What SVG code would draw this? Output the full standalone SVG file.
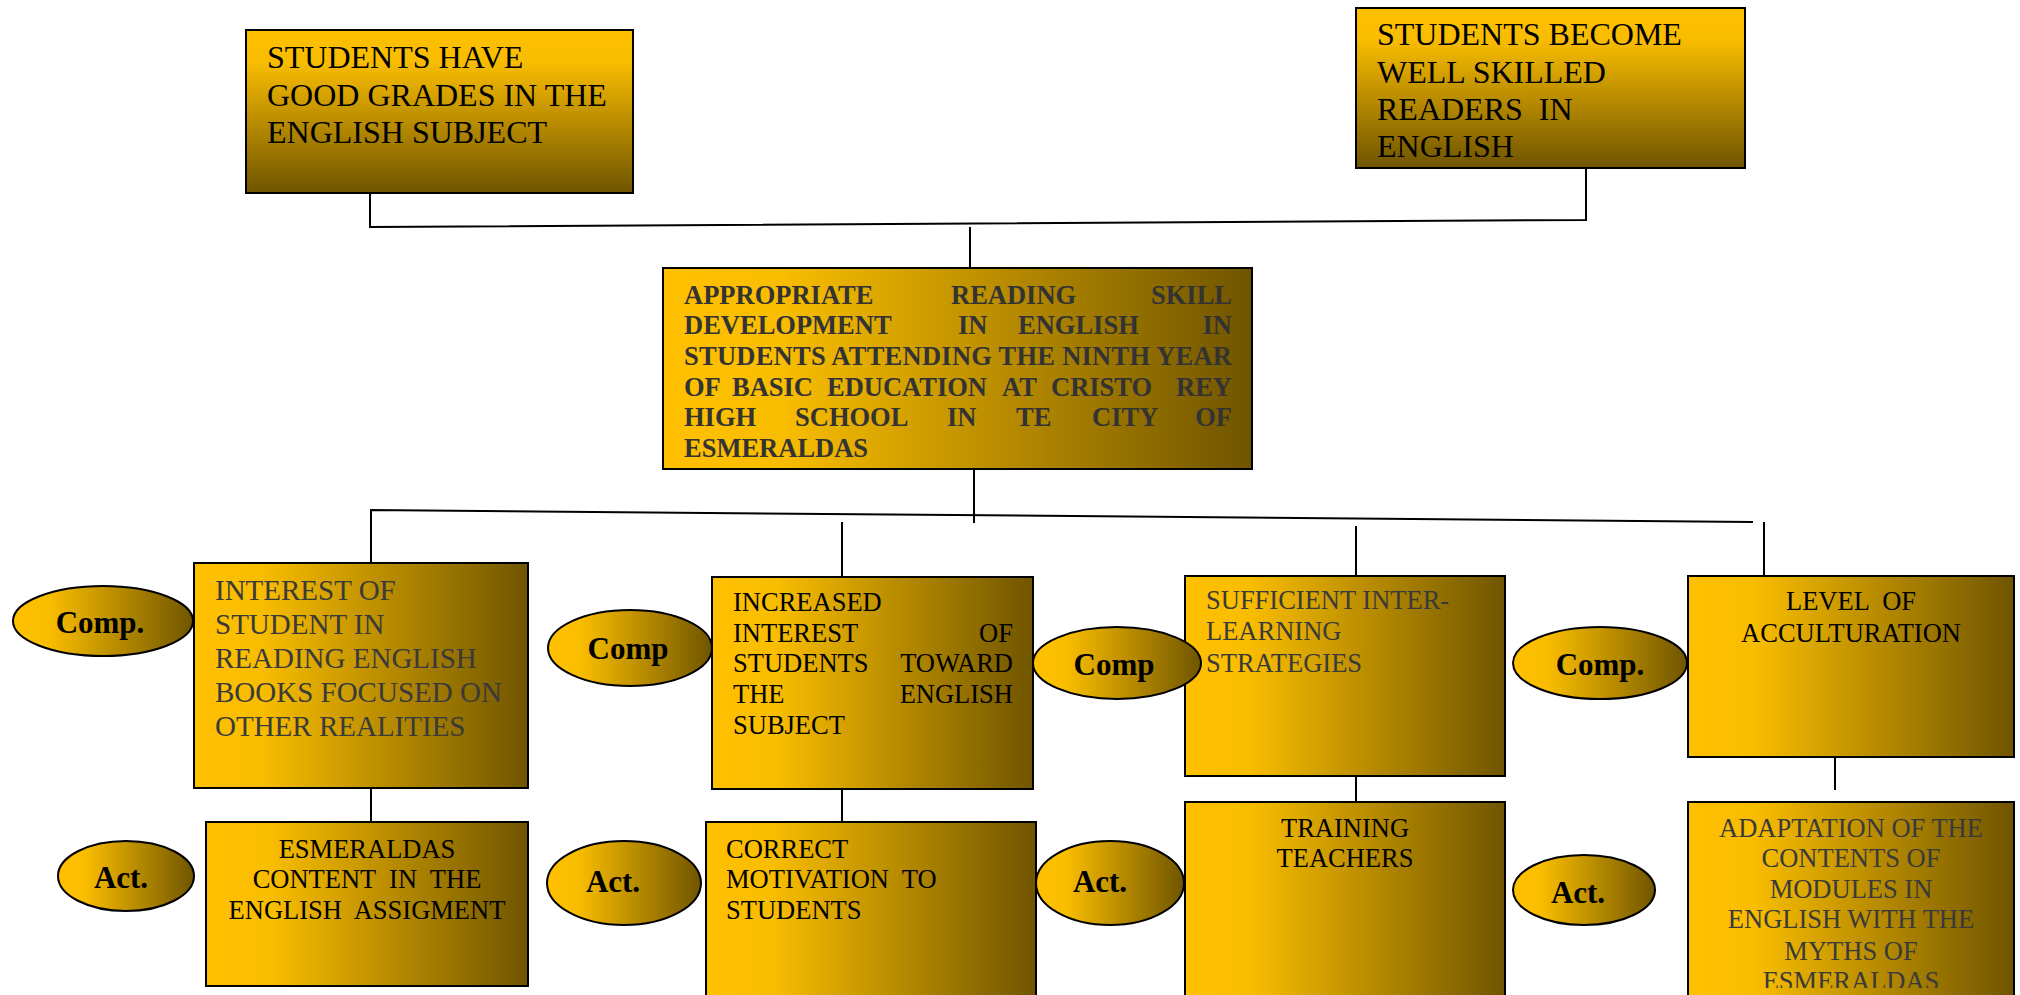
<svg xmlns="http://www.w3.org/2000/svg" width="2020" height="995" viewBox="0 0 2020 995">
<defs>
<linearGradient id="gv" x1="0" y1="0" x2="0" y2="1">
<stop offset="0" stop-color="#FFC000"/><stop offset="0.2" stop-color="#F8BC00"/><stop offset="1" stop-color="#6F5400"/>
</linearGradient>
<linearGradient id="gh" x1="0" y1="0" x2="1" y2="0">
<stop offset="0" stop-color="#FFC000"/><stop offset="0.2" stop-color="#F9BD00"/><stop offset="1" stop-color="#705500"/>
</linearGradient>
<clipPath id="clipD2"><rect x="1688" y="802" width="326" height="186"/></clipPath>
<style>
.bv{fill:url(#gv);stroke:#000;stroke-width:2}
.bh{fill:url(#gh);stroke:#000;stroke-width:2}
.el{fill:url(#gh);stroke:#000;stroke-width:2}
.ln{stroke:#000;stroke-width:2;fill:none}
.t32{font-family:"Liberation Serif","Times New Roman",serif;font-size:32px;fill:#000}
.t29{font-family:"Liberation Serif","Times New Roman",serif;font-size:29px;fill:#3a3a3a}
.t26{font-family:"Liberation Serif","Times New Roman",serif;font-size:26.5px;fill:#000}
.g26{font-family:"Liberation Serif","Times New Roman",serif;font-size:26.5px;fill:#3a3a3a}
.mb{font-family:"Liberation Serif","Times New Roman",serif;font-size:26.5px;font-weight:bold;fill:#333}
.lb{font-family:"Liberation Serif","Times New Roman",serif;font-size:31px;font-weight:bold;fill:#000;text-anchor:middle}
.c{text-anchor:middle}
.e{text-anchor:end}
</style>
</defs>
<rect width="2020" height="995" fill="#fff"/>
<g id="connectors">
<polyline class="ln" points="370,193 370,227 1586,220 1586,168"/>
<line class="ln" x1="970" y1="227" x2="970" y2="268"/>
<line class="ln" x1="974" y1="469" x2="974" y2="523"/>
<polyline class="ln" points="371,563 371,510 1753,522"/>
<line class="ln" x1="842" y1="522" x2="842" y2="577"/>
<line class="ln" x1="1356" y1="526" x2="1356" y2="576"/>
<line class="ln" x1="1764" y1="522" x2="1764" y2="575"/>
<line class="ln" x1="371" y1="776" x2="371" y2="822"/>
<line class="ln" x1="842" y1="789" x2="842" y2="822"/>
<line class="ln" x1="1356" y1="770" x2="1356" y2="802"/>
<line class="ln" x1="1835" y1="758" x2="1835" y2="790"/>
</g>
<g id="node-grades">
<rect class="bv" x="246" y="30" width="387" height="163"/>
<text class="t32" x="267" y="68">STUDENTS HAVE</text>
<text class="t32" x="267" y="106">GOOD GRADES IN THE</text>
<text class="t32" x="267" y="143">ENGLISH SUBJECT</text>
</g>
<g id="node-readers">
<rect class="bv" x="1356" y="8" width="389" height="160"/>
<text class="t32" x="1377" y="45">STUDENTS BECOME</text>
<text class="t32" x="1377" y="83">WELL SKILLED</text>
<text class="t32" x="1377" y="120" xml:space="preserve">READERS  IN</text>
<text class="t32" x="1377" y="157">ENGLISH</text>
</g>
<g id="node-main">
<rect class="bh" x="663" y="268" width="589" height="201"/>
<text class="mb" x="684" y="304">APPROPRIATE</text>
<text class="mb" x="951" y="304">READING</text>
<text class="mb e" x="1232" y="304">SKILL</text>
<text class="mb" x="684" y="334">DEVELOPMENT</text>
<text class="mb" x="958" y="334">IN</text>
<text class="mb" x="1018" y="334">ENGLISH</text>
<text class="mb e" x="1232" y="334">IN</text>
<text class="mb" x="684" y="365" textLength="548" lengthAdjust="spacing">STUDENTS ATTENDING THE NINTH YEAR</text>
<text class="mb" x="684" y="396">OF</text>
<text class="mb" x="732" y="396">BASIC</text>
<text class="mb" x="827" y="396">EDUCATION</text>
<text class="mb" x="1002" y="396">AT</text>
<text class="mb" x="1051" y="396">CRISTO</text>
<text class="mb e" x="1232" y="396">REY</text>
<text class="mb" x="684" y="426">HIGH</text>
<text class="mb" x="795" y="426">SCHOOL</text>
<text class="mb" x="947" y="426">IN</text>
<text class="mb" x="1016" y="426">TE</text>
<text class="mb" x="1092" y="426">CITY</text>
<text class="mb e" x="1232" y="426">OF</text>
<text class="mb" x="684" y="457">ESMERALDAS</text>
</g>
<g id="node-interest">
<rect class="bh" x="194" y="563" width="334" height="225"/>
<text class="t29" x="215" y="600">INTEREST OF</text>
<text class="t29" x="215" y="634">STUDENT IN</text>
<text class="t29" x="215" y="668">READING ENGLISH</text>
<text class="t29" x="215" y="702">BOOKS FOCUSED ON</text>
<text class="t29" x="215" y="736">OTHER REALITIES</text>
</g>
<g id="node-comp1">
<ellipse class="el" cx="103" cy="621" rx="90" ry="35"/>
<text class="lb" x="100" y="633">Comp.</text>
</g>
<g id="node-increased">
<rect class="bh" x="712" y="577" width="321" height="212"/>
<text class="t26" x="733" y="611">INCREASED</text>
<text class="t26" x="733" y="642">INTEREST</text>
<text class="t26 e" x="1013" y="642">OF</text>
<text class="t26" x="733" y="672">STUDENTS</text>
<text class="t26 e" x="1013" y="672">TOWARD</text>
<text class="t26" x="733" y="703">THE</text>
<text class="t26 e" x="1013" y="703">ENGLISH</text>
<text class="t26" x="733" y="734">SUBJECT</text>
</g>
<g id="node-comp2">
<ellipse class="el" cx="630" cy="648" rx="82" ry="38"/>
<text class="lb" x="628" y="659">Comp</text>
</g>
<g id="node-strategies">
<rect class="bh" x="1185" y="576" width="320" height="200"/>
<text class="g26" x="1206" y="609">SUFFICIENT INTER-</text>
<text class="g26" x="1206" y="640">LEARNING</text>
<text class="g26" x="1206" y="672">STRATEGIES</text>
</g>
<g id="node-comp3">
<ellipse class="el" cx="1117" cy="663" rx="84" ry="36"/>
<text class="lb" x="1114" y="675">Comp</text>
</g>
<g id="node-acculturation">
<rect class="bh" x="1688" y="576" width="326" height="181"/>
<text class="t26 c" x="1851" y="610" xml:space="preserve">LEVEL  OF</text>
<text class="t26 c" x="1851" y="642">ACCULTURATION</text>
</g>
<g id="node-comp4">
<ellipse class="el" cx="1600" cy="663" rx="87" ry="36"/>
<text class="lb" x="1600" y="675">Comp.</text>
</g>
<g id="node-esmeraldas">
<rect class="bh" x="206" y="822" width="322" height="164"/>
<text class="t26 c" x="367" y="858">ESMERALDAS</text>
<text class="t26 c" x="367" y="888" xml:space="preserve">CONTENT  IN  THE</text>
<text class="t26 c" x="367" y="919" xml:space="preserve">ENGLISH  ASSIGMENT</text>
</g>
<g id="node-act1">
<ellipse class="el" cx="126" cy="876" rx="68" ry="35"/>
<text class="lb" x="121" y="888">Act.</text>
</g>
<g id="node-motivation">
<rect class="bh" x="706" y="822" width="330" height="190"/>
<text class="t26" x="726" y="858">CORRECT</text>
<text class="t26" x="726" y="888" xml:space="preserve">MOTIVATION  TO</text>
<text class="t26" x="726" y="919">STUDENTS</text>
</g>
<g id="node-act2">
<ellipse class="el" cx="624" cy="883" rx="77" ry="42"/>
<text class="lb" x="613" y="892">Act.</text>
</g>
<g id="node-training">
<rect class="bh" x="1185" y="802" width="320" height="210"/>
<text class="t26 c" x="1345" y="837">TRAINING</text>
<text class="t26 c" x="1345" y="867">TEACHERS</text>
</g>
<g id="node-act3">
<ellipse class="el" cx="1110" cy="883" rx="74" ry="42"/>
<text class="lb" x="1100" y="892">Act.</text>
</g>
<g id="node-adaptation">
<rect class="bh" x="1688" y="802" width="326" height="210"/>
<g clip-path="url(#clipD2)">
<text class="g26 c" x="1851" y="837">ADAPTATION OF THE</text>
<text class="g26 c" x="1851" y="867">CONTENTS OF</text>
<text class="g26 c" x="1851" y="898">MODULES IN</text>
<text class="g26 c" x="1851" y="928">ENGLISH WITH THE</text>
<text class="g26 c" x="1851" y="960">MYTHS OF</text>
<text class="g26 c" x="1851" y="990">ESMERALDAS</text>
</g>
</g>
<g id="node-act4">
<ellipse class="el" cx="1584" cy="890" rx="71" ry="35"/>
<text class="lb" x="1578" y="903">Act.</text>
</g>
</svg>
